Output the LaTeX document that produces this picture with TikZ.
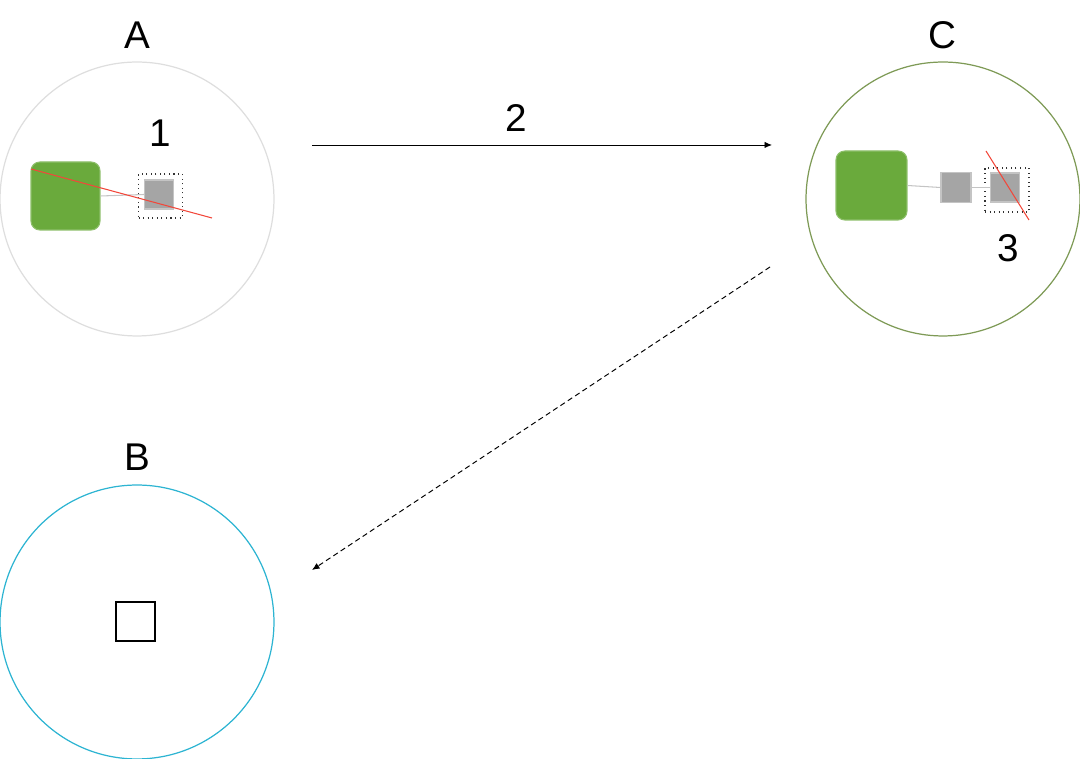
\documentclass[tikz,border=0pt]{standalone}
\usepackage{fontspec}
\setmainfont{Liberation Sans}
\usetikzlibrary{arrows.meta,positioning}
\definecolor{grisclaro}{HTML}{DEDEDE}
\definecolor{oliva}{HTML}{7E9A56}
\definecolor{cian}{HTML}{2DB4D2}
\definecolor{verde}{HTML}{6AAA3C}
\definecolor{verdeb}{HTML}{8DBF6A}
\definecolor{grisn}{HTML}{A5A5A5}
\definecolor{grisb}{HTML}{C4C4C4}
\definecolor{rojo}{HTML}{F2473A}

\tikzset{
  zona/.style={circle,minimum size=5.48cm,inner sep=0pt,line width=0.7pt},
  etiq/.style={font=\fontsize{22}{24}\selectfont,inner sep=0pt},
  bloque/.style={fill=verde,draw=verdeb,line width=0.6pt,rounded corners=5pt,inner sep=0pt},
  celda/.style={fill=grisn,draw=grisb,line width=0.6pt,minimum size=0.58cm,inner sep=0pt},
  marco/.style={draw=black!80,dotted,line width=0.6pt,minimum size=0.88cm,inner sep=0pt},
  enlace/.style={draw=grisb,line width=0.6pt},
  corte/.style={draw=rojo,line width=0.6pt},
  flecha/.style={line width=0.55pt,-{Latex[length=1.5mm,width=1.3mm]}}
}

\begin{document}
\begin{tikzpicture}[x=0.02cm,y=-0.02cm]
  \useasboundingbox (0,0) rectangle (1080,759);

  % zonas
  \node[zona,draw=grisclaro] (zonaA) at (137,199) {};
  \node[zona,draw=oliva] (zonaC) at (943,199) {};
  \node[zona,draw=cian] (zonaB) at (137,622) {};
  \node[etiq] (etA) at (137,35) {A};
  \node[etiq] (etC) at (942,35) {C};
  \node[etiq] (etB) at (137,457) {B};

  % zona A
  \node[bloque,minimum width=1.38cm,minimum height=1.36cm] (verdeA) at (65.5,196) {};
  \node[celda] (celdaA) at (159,194.5) {};
  \node[marco] (marcoA) at (160.5,196) {};
  \draw[enlace] (verdeA.east) -- (celdaA.west);
  \node[etiq] (uno) at (160,133) {1};
  \coordinate (cortaA1) at (31,169);
  \coordinate (cortaA2) at (212,218);
  \draw[corte] (cortaA1) -- (cortaA2);

  % zona C
  \node[bloque,minimum width=1.42cm,minimum height=1.38cm] (verdeC) at (871.5,185.5) {};
  \node[celda,minimum size=0.6cm] (celdaC1) at (956,187.5) {};
  \node[celda] (celdaC2) at (1005,187.5) {};
  \node[marco] (marcoC) at (1007,190) {};
  \draw[enlace] (verdeC.east) -- (celdaC1.west);
  \draw[enlace] (celdaC1.east) -- (celdaC2.west);
  \node[etiq] (tres) at (1008,248) {3};
  \coordinate (cortaC1) at (986,151);
  \coordinate (cortaC2) at (1029,220);
  \draw[corte] (cortaC1) -- (cortaC2);

  % zona B
  \node[draw,line width=0.7pt,minimum size=0.78cm,inner sep=0pt] (vacioB) at (135.5,621.5) {};

  % flechas
  \coordinate (iniAC) at (312,145);
  \coordinate (finAC) at (772,145);
  \draw[flecha] (iniAC) -- (finAC);
  \node[etiq] (dos) at (516,118) {2};
  \coordinate (iniCB) at (770,267);
  \coordinate (finCB) at (312,570);
  \draw[flecha,dashed,dash pattern=on 3pt off 2pt] (iniCB) -- (finCB);
\end{tikzpicture}
\end{document}
